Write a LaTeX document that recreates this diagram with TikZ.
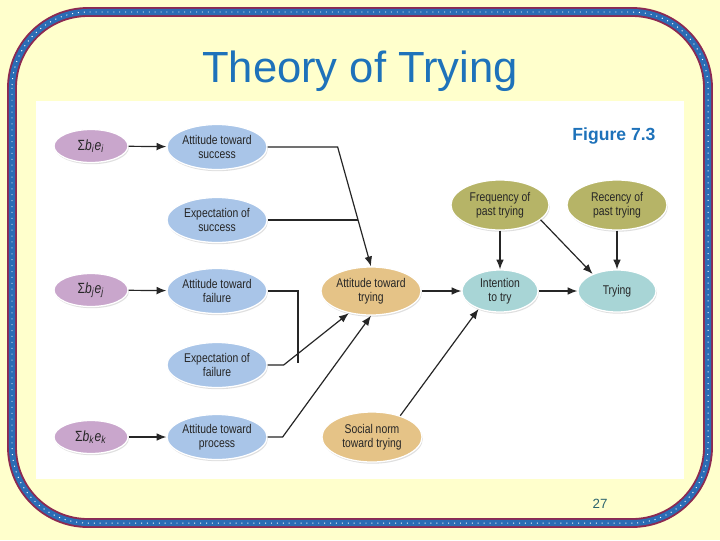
\documentclass[tikz,border=0pt]{standalone}
\usepackage{fontspec}
\setmainfont{Liberation Sans}
\newfontfamily\narrowfont[FakeStretch=0.82]{Liberation Sans}
\usetikzlibrary{shapes.geometric,arrows.meta,shadows,calc}
\definecolor{pageyellow}{RGB}{255,255,204}
\definecolor{bandred}{RGB}{140,42,82}
\definecolor{bandblue}{RGB}{42,108,181}
\definecolor{titleblue}{RGB}{30,114,186}
\definecolor{pagenum}{RGB}{45,100,110}
\definecolor{sumpurple}{RGB}{201,166,204}
\definecolor{attblue}{RGB}{169,197,232}
\definecolor{tryorange}{RGB}{229,195,135}
\definecolor{pastolive}{RGB}{182,180,103}
\definecolor{intteal}{RGB}{168,213,214}
\newcommand\bepair[2]{{\fontsize{10.5}{12}\selectfont Σ\textit{b}\textsubscript{\textit{#1}}\textit{e}\textsubscript{\textit{#2}}}}

\begin{document}
\begin{tikzpicture}[x=0.025cm,y=-0.025cm,
    blob/.style={ellipse,draw=white,line width=0.9pt,inner sep=0pt,
      align=center,text=black!85,font=\narrowfont\fontsize{9}{10}\selectfont,
      drop shadow={opacity=0.25,shadow xshift=0.6pt,shadow yshift=-1.2pt}},
    link/.style={line width=0.85pt,black!85},
    arr/.style={link,-{Latex[length=7pt,width=5.5pt]}}]
  \useasboundingbox (0,0) rectangle (720,540);
  \fill[pageyellow] (0,0) rectangle (720,540);

  % frame
  \foreach \lw/\col in {7pt/bandred,4.3pt/bandblue}
    \draw[\col,line width=\lw,rounded corners=54pt] (12,12) rectangle (708,523);
  \draw[white,line width=0.7pt,dash pattern=on 0.7pt off 3.5pt,rounded corners=54pt]
    (12,12) rectangle (708,523);
  \fill[white] (36,101) rectangle (684,479);

  \node[font=\fontsize{31}{36}\selectfont,text=titleblue,anchor=base] (title) at (360,82) {Theory of Trying};
  \node[font=\bfseries\fontsize{12.5}{14}\selectfont,text=titleblue,anchor=base] (fig) at (614,140) {Figure 7.3};
  \node[font=\fontsize{9.5}{11}\selectfont,text=pagenum,anchor=base] (pg) at (600,508) {27};

  % ellipses
  \foreach \nm/\px/\py/\w/\h/\col/\txt in {
    s1/91/146/74/33/sumpurple/{\bepair{i}{i}},
    s2/91/290/74/33/sumpurple/{\bepair{j}{j}},
    s3/91/437/74/33/sumpurple/{\bepair{k}{k}},
    ats/217/147/100/45/attblue/{Attitude toward\\success},
    exs/217/220/100/45/attblue/{Expectation of\\success},
    atf/217/291/100/45/attblue/{Attitude toward\\failure},
    exf/217/365/100/45/attblue/{Expectation of\\failure},
    atp/217/437/100/45/attblue/{Attitude toward\\process},
    att/371/291/100/48/tryorange/{Attitude toward\\trying},
    soc/372/437/100/50/tryorange/{Social norm\\toward trying},
    frq/500/205/98/50/pastolive/{Frequency of\\past trying},
    rec/617/205/100/50/pastolive/{Recency of\\past trying},
    int/500/291/76/42/intteal/{Intention\\to try},
    try/617/291/78/42/intteal/{Trying}}{
    \node[blob,fill=\col,minimum width=\w*0.7113pt,minimum height=\h*0.7113pt]
      (\nm) at (\px,\py) {\txt};
  }

  \foreach \a/\b in {s1/ats,s2/atf,s3/atp,att/int,int/try}
    \draw[arr] (\a) -- (\b);
  \draw[arr] (frq) -- (int);
  \draw[arr] (rec) -- (try);
  \draw[arr] (frq.-20) -- (try.145);
  \draw[arr] (soc.37) -- (int.220);

  % success branch
  \draw[arr] (ats.east) -- ++(70,0) coordinate (sj) -- (att.north);
  \coordinate (sk) at ($(sj)!0.61!(att.north)$);
  \draw[link] (exs.east) -- (exs.east -| sk);
  % failure branch
  \coordinate (fj) at (298,363);
  \draw[link] (atf.east) -| (fj);
  \draw[arr] (exf.east) -- ++(16,0) -- (att.225);
  % process branch
  \draw[arr] (atp.east) -- ++(15,0) -- (att.south);
\end{tikzpicture}
\end{document}
